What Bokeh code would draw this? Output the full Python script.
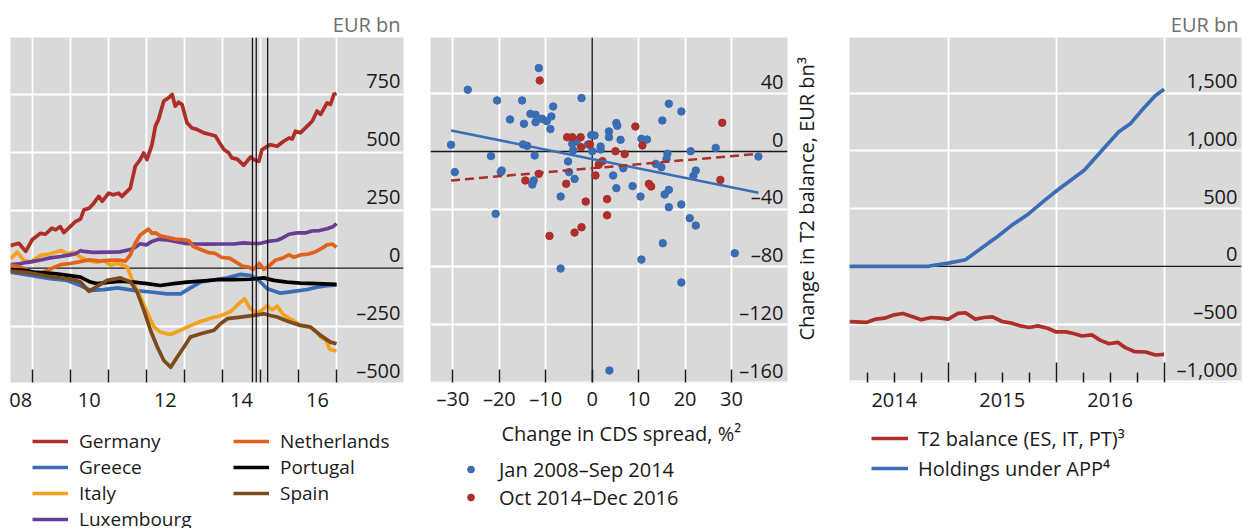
from bokeh.plotting import figure
from bokeh.models import Range1d, LinearAxis, FixedTicker, Span, Legend, LegendItem, Title
from bokeh.layouts import row, column
from bokeh.embed import file_html
from bokeh.resources import INLINE

# ------------------------------------------------------------------ data
# Panel 1: TARGET2 balances by country, EUR bn (decimal year, value)
germany = [(2008.43, 97), (2008.65, 107), (2008.83, 72), (2009.0, 122), (2009.22, 150), (2009.35, 146),
           (2009.52, 172), (2009.62, 165), (2009.74, 179), (2009.83, 153), (2010.0, 179), (2010.14, 201),
           (2010.27, 211), (2010.36, 251), (2010.5, 258), (2010.62, 280), (2010.75, 309), (2010.84, 288),
           (2011.01, 323), (2011.13, 316), (2011.27, 323), (2011.36, 309), (2011.58, 345), (2011.71, 439),
           (2011.84, 468), (2011.93, 496), (2012.02, 468), (2012.15, 532), (2012.24, 612), (2012.32, 640),
           (2012.46, 720), (2012.59, 734), (2012.68, 749), (2012.76, 698), (2012.85, 715), (2012.94, 705),
           (2013.07, 626), (2013.2, 604), (2013.33, 598), (2013.51, 583), (2013.68, 576), (2013.82, 569),
           (2013.9, 547), (2014.04, 511), (2014.17, 496), (2014.25, 475), (2014.39, 470), (2014.56, 443),
           (2014.74, 479), (2014.82, 468), (2014.96, 460), (2015.04, 511), (2015.18, 525), (2015.26, 532),
           (2015.44, 525), (2015.61, 547), (2015.75, 561), (2015.84, 557), (2015.92, 590), (2016.05, 583),
           (2016.23, 612), (2016.36, 633), (2016.49, 677), (2016.58, 662), (2016.75, 712), (2016.84, 705),
           (2016.93, 749), (2017.0, 753)]
greece = [(2008.43, -17), (2008.96, -31), (2009.48, -45), (2009.92, -53), (2010.27, -75), (2010.53, -96),
          (2010.88, -93), (2011.24, -85), (2011.67, -96), (2012.11, -103), (2012.55, -111), (2012.9, -111),
          (2013.16, -85), (2013.43, -60), (2013.78, -50), (2014.13, -42), (2014.48, -27), (2014.74, -32),
          (2014.91, -46), (2015.18, -89), (2015.53, -108), (2015.88, -100), (2016.23, -92), (2016.49, -82),
          (2016.75, -76), (2017.0, -72)]
italy = [(2008.43, 40), (2008.61, 69), (2008.78, 33), (2008.96, 26), (2009.22, 55), (2009.48, 62),
         (2009.75, 76), (2009.92, 62), (2010.10, 69), (2010.27, 47), (2010.45, 33), (2010.71, 26),
         (2010.88, 33), (2011.06, 12), (2011.24, 22), (2011.5, 4), (2011.67, -67), (2011.85, -125),
         (2012.02, -190), (2012.2, -254), (2012.37, -276), (2012.64, -286), (2012.9, -268), (2013.16, -248),
         (2013.43, -230), (2013.69, -216), (2013.95, -205), (2014.21, -188), (2014.39, -160), (2014.58, -132),
         (2014.72, -172), (2014.9, -195), (2015.05, -180), (2015.18, -162), (2015.31, -180), (2015.44, -164),
         (2015.6, -200), (2015.88, -228), (2016.05, -245), (2016.3, -254), (2016.49, -278), (2016.6, -300),
         (2016.72, -310), (2016.82, -350), (2017.0, -357)]
luxembourg = [(2008.43, 15), (2008.65, 18), (2008.83, 24), (2009.0, 28), (2009.22, 35), (2009.48, 44),
              (2009.75, 50), (2010.0, 57), (2010.14, 62), (2010.27, 75), (2010.36, 72), (2010.6, 68),
              (2011.0, 69), (2011.3, 70), (2011.58, 80), (2011.71, 90), (2011.84, 105), (2012.0, 100),
              (2012.15, 115), (2012.32, 124), (2012.55, 122), (2012.76, 115), (2013.0, 107), (2013.3, 104),
              (2013.6, 103), (2014.0, 104), (2014.3, 104), (2014.56, 109), (2014.8, 106), (2015.0, 107),
              (2015.2, 115), (2015.44, 120), (2015.58, 130), (2015.75, 146), (2015.97, 152), (2016.2, 152),
              (2016.35, 160), (2016.55, 162), (2016.75, 170), (2016.9, 178), (2017.0, 192)]
netherlands = [(2008.43, 12), (2008.6, 8), (2008.8, -3), (2009.0, -20), (2009.22, -22), (2009.4, -10),
               (2009.6, 5), (2009.75, 15), (2010.0, 20), (2010.27, 28), (2010.5, 36), (2010.8, 30),
               (2011.0, 34), (2011.27, 35), (2011.45, 30), (2011.58, 57), (2011.71, 107), (2011.84, 143),
               (2011.97, 158), (2012.06, 168), (2012.15, 150), (2012.24, 152), (2012.37, 139), (2012.55, 133),
               (2012.76, 125), (2013.02, 122), (2013.12, 118), (2013.24, 93), (2013.46, 78), (2013.63, 67),
               (2013.8, 64), (2013.97, 47), (2014.2, 42), (2014.34, 28), (2014.52, 9), (2014.69, 4),
               (2014.82, -5), (2014.97, 21), (2015.09, -5), (2015.22, 9), (2015.4, 35), (2015.57, 42),
               (2015.75, 57), (2015.88, 47), (2016.05, 57), (2016.27, 61), (2016.45, 71), (2016.62, 86),
               (2016.75, 100), (2016.88, 104), (2017.0, 90)]
portugal = [(2008.43, -6), (2008.8, -10), (2009.05, -17), (2009.5, -22), (2009.75, -27), (2010.27, -39),
            (2010.53, -60), (2010.71, -67), (2011.06, -60), (2011.32, -56), (2011.67, -60), (2012.02, -67),
            (2012.37, -75), (2012.72, -67), (2013.07, -60), (2013.43, -56), (2013.86, -50), (2014.3, -50),
            (2014.74, -48), (2015.09, -42), (2015.35, -53), (2015.7, -60), (2016.05, -65), (2016.49, -67),
            (2017.0, -70)]
spain = [(2008.43, -13), (2008.7, -16), (2009.05, -24), (2009.4, -35), (2009.75, -42), (2010.1, -50),
         (2010.27, -60), (2010.49, -100), (2010.71, -79), (2010.97, -53), (2011.32, -42), (2011.59, -60),
         (2011.76, -103), (2011.94, -183), (2012.11, -268), (2012.29, -340), (2012.46, -398), (2012.64, -427),
         (2012.81, -384), (2012.99, -340), (2013.16, -297), (2013.43, -283), (2013.78, -268), (2013.95, -240),
         (2014.13, -218), (2014.48, -211), (2014.83, -204), (2015.09, -197), (2015.26, -204), (2015.44, -211),
         (2015.70, -228), (2016.05, -247), (2016.32, -254), (2016.58, -290), (2016.84, -319), (2017.0, -326)]
event_dates = [2014.79, 2014.89, 2015.19]
p1_year_grid = [2009, 2010, 2011, 2012, 2013, 2014, 2015, 2016, 2017]
p1_label_pos = [2008.7, 2010.5, 2012.5, 2014.5, 2016.5]
p1_label_txt = ["08", "10", "12", "14", "16"]
p1_y_ticks = [-500, -250, 0, 250, 500, 750]
p1_y_labels = ["\u2013500", "\u2013250", "0", "250", "500", "750"]

# Panel 2: change in CDS spread (%) vs change in T2 balance (EUR bn)
period1 = [(-11.5, 57.8), (-26.8, 42.8), (-20.5, 35.4), (-15.1, 35.4), (-2.3, 37.0), (-8.4, 31.2),
           (-13.3, 26.1), (-12.2, 25.4), (-17.7, 22.2), (-14.7, 19.2), (-12.2, 20.3), (-10.8, 22.7),
           (-9.8, 21.0), (-8.8, 24.3), (-9.0, 15.5), (-30.4, 4.6), (-14.9, 4.9), (-14.0, 3.9),
           (-21.8, -3.2), (-12.4, -2.8), (-29.6, -14.3), (-19.7, -14.3), (-19.5, -13.2), (-5.2, -6.9),
           (-5.0, -14.3), (-3.8, -19.0), (-12.9, -22.9), (-12.6, -20.1), (-6.8, -31.2), (-4.3, 5.3),
           (-3.8, 6.5), (-3.2, 8.1), (-4.1, 0.7), (-0.9, 4.9), (-0.2, 11.3), (0.5, 11.1), (0.0, 0.2),
           (1.8, 3.5), (1.8, 1.4), (3.6, 13.9), (3.6, 9.9), (5.2, 19.7), (5.4, 17.8), (6.1, 8.1),
           (4.5, -16.6), (6.7, -11.6), (5.2, -25.4), (8.7, -24.0), (10.4, -31.2), (10.6, 8.8), (11.8, 8.3),
           (15.1, 21.5), (16.5, 33.1), (19.2, 27.7), (13.7, -8.6), (14.9, -10.9), (16.2, -1.6), (16.0, -5.1),
           (16.5, -26.6), (15.6, -29.8), (21.2, 0.2), (26.6, 2.5), (35.8, -3.5), (22.3, -13.2), (21.8, -16.9),
           (-20.8, -43.2), (16.5, -38.6), (19.2, -36.7), (21.0, -46.2), (22.3, -51.3), (15.2, -63.6),
           (30.7, -70.5), (10.6, -74.9), (-6.8, -81.1), (19.2, -90.8), (3.7, -151.8)]
period2 = [(-11.3, 49.2), (-5.4, 9.9), (-4.3, 9.9), (-2.5, 9.9), (-2.4, 3.0), (-0.5, 4.9), (9.3, 17.3),
           (10.8, 4.2), (28.0, 19.9), (5.0, 0.2), (7.0, -1.8), (2.2, -6.7), (1.4, -9.2), (0.7, -16.6),
           (-11.5, -15.5), (-14.4, -20.1), (-5.6, -22.4), (12.2, -22.4), (12.7, -24.3), (27.6, -19.7),
           (-1.4, -34.7), (3.2, -33.0), (3.2, -44.2), (-2.3, -52.5), (-3.8, -56.2), (-9.2, -58.5)]
fit_x = [-30.4, 35.8]
fit1_y = [14.6, -28.6]
fit2_y = [-20.1, -1.6]
p2_x_ticks = [-30, -20, -10, 0, 10, 20, 30]
p2_x_labels = ["\u201330", "\u201320", "\u201310", "0", "10", "20", "30"]
p2_y_ticks = [-160, -120, -80, -40, 0, 40]
p2_y_labels = ["\u2013160", "\u2013120", "\u201380", "\u201340", "0", "40"]

# Panel 3: T2 balance (ES, IT, PT) and holdings under APP, EUR bn
t2_balance = [(2014.085, -477), (2014.24, -485), (2014.33, -456), (2014.41, -448), (2014.50, -419),
              (2014.58, -407), (2014.67, -436), (2014.75, -462), (2014.84, -442), (2014.93, -448),
              (2015.0, -456), (2015.09, -407), (2015.16, -401), (2015.25, -456), (2015.33, -442),
              (2015.41, -436), (2015.50, -477), (2015.59, -491), (2015.67, -515), (2015.75, -529),
              (2015.83, -515), (2015.92, -535), (2016.0, -567), (2016.09, -567), (2016.16, -581),
              (2016.24, -602), (2016.33, -593), (2016.41, -640), (2016.49, -669), (2016.57, -657),
              (2016.64, -703), (2016.73, -738), (2016.83, -741), (2016.92, -767), (2017.0, -762)]
app_holdings = [(2014.085, 0), (2014.81, 0), (2014.84, 6), (2015.0, 29), (2015.16, 58), (2015.30, 154),
                (2015.46, 262), (2015.59, 358), (2015.73, 445), (2015.89, 570), (2016.01, 660),
                (2016.26, 834), (2016.44, 1022), (2016.58, 1167), (2016.69, 1239), (2016.81, 1370),
                (2016.92, 1480), (2017.0, 1535)]
p3_year_ticks = [2015, 2016, 2017]
p3_quarter_ticks = [2014.25, 2014.5, 2014.75, 2015.25, 2015.5, 2015.75, 2016.25, 2016.5, 2016.75]
p3_label_pos = [2014.5, 2015.5, 2016.5]
p3_label_txt = ["2014", "2015", "2016"]
p3_y_ticks = [-1000, -500, 0, 500, 1000, 1500]
p3_y_labels = ["\u20131,000", "\u2013500", "0", "500", "1,000", "1,500"]

# ------------------------------------------------------------------ style
FONT = "Open Sans"
FS = "20px"
BG = "#d9d9d9"
INK = "#1a1a1a"
UNIT_GRAY = "#6e6e6e"
RED = "#ae2e2a"
BLUE = "#3a6db4"
COLORS = {"Germany": RED, "Greece": BLUE, "Italy": "#f2a21c", "Luxembourg": "#6a3d94",
          "Netherlands": "#e0621c", "Portugal": "#000000", "Spain": "#7b4a1d"}
PAGE_H = 528
TOP = 37
FRAME_H = 345
LW = 3.7
NAN = float("nan")


def xs(pairs):
    return [a for a, _ in pairs]


def ys(pairs):
    return [b for _, b in pairs]


def base_fig(width, height, xr, yr, left, right, title=None):
    p = figure(width=width, height=height, x_range=Range1d(*xr), y_range=Range1d(*yr),
               output_backend="svg", toolbar_location=None, title=title,
               x_axis_location=None, y_axis_location=None,
               min_border_left=left, min_border_right=right,
               min_border_top=TOP, min_border_bottom=height - TOP - FRAME_H)
    p.background_fill_color = BG
    p.border_fill_color = "white"
    p.outline_line_color = None
    for g in (p.xgrid, p.ygrid):
        g.grid_line_color = "white"
        g.grid_line_width = 1.8
    if title is not None:
        p.title.align = "right"
        p.title.offset = 3
        p.title.standoff = 0
        p.title.text_font = FONT
        p.title.text_font_size = FS
        p.title.text_font_style = "normal"
        p.title.text_color = UNIT_GRAY
    return p


def legend_fig(width, height):
    f = figure(width=width, height=height, x_range=Range1d(0, 1), y_range=Range1d(0, 1),
               output_backend="svg", toolbar_location=None, title=None,
               x_axis_location=None, y_axis_location=None, min_border=0)
    f.background_fill_color = "white"
    f.border_fill_color = "white"
    f.outline_line_color = None
    f.xgrid.visible = False
    f.ygrid.visible = False
    return f


def value_axis(p, ticks, labels, shift, loc):
    p.extra_y_ranges = {"lab": Range1d(p.y_range.start - shift, p.y_range.end - shift)}
    ax = LinearAxis(y_range_name="lab", fixed_location=loc, ticker=FixedTicker(ticks=ticks),
                    major_label_overrides=dict(zip(ticks, labels)),
                    axis_line_color=None, major_tick_in=0, major_tick_out=0,
                    major_tick_line_color=None, minor_tick_line_color=None,
                    major_label_standoff=0, major_label_text_font=FONT,
                    major_label_text_font_size=FS, major_label_text_color=INK)
    p.add_layout(ax, "left")


def bottom_axis(p, ticks, labels, minor=None, minor_len=0, major_len=0, standoff=10):
    ax = LinearAxis(ticker=FixedTicker(ticks=ticks, minor_ticks=minor or []),
                    major_label_overrides=dict(zip(ticks, labels)),
                    axis_line_color=None,
                    major_tick_in=major_len, major_tick_out=0,
                    major_tick_line_color=INK if major_len else None, major_tick_line_width=1.5,
                    minor_tick_in=minor_len, minor_tick_out=0,
                    minor_tick_line_color=INK if minor_len else None, minor_tick_line_width=1.5,
                    major_label_standoff=standoff, major_label_text_font=FONT,
                    major_label_text_font_size=FS, major_label_text_color=INK)
    p.add_layout(ax, "below")
    return ax


def tick_axis(p, ticks, length):
    ax = LinearAxis(fixed_location=p.y_range.start, ticker=FixedTicker(ticks=ticks),
                    axis_line_color=None, major_tick_in=length, major_tick_out=0,
                    major_tick_line_color=INK, major_tick_line_width=1.5,
                    minor_tick_line_color=None, major_label_text_alpha=0)
    p.add_layout(ax, "below")


def legend(f, items, loc, glyph_w, standoff, spacing, nrows="auto", label_width=20,
           item_h=28, font_size=FS):
    lg = Legend(items=items, location=loc, orientation="vertical", nrows=nrows,
                glyph_width=glyph_w, glyph_height=item_h, label_height=item_h, label_width=label_width,
                label_standoff=standoff, spacing=spacing, padding=0, margin=0,
                border_line_color=None, background_fill_alpha=0,
                label_text_font=FONT, label_text_font_size=font_size, label_text_color=INK)
    f.add_layout(lg)


# ------------------------------------------------------------------ panel 1
P1_H = 424
p1 = base_fig(420, P1_H, (2008.431, 2018.76), (-493, 994), 10, 17, title="EUR bn")
p1.xgrid.ticker = FixedTicker(ticks=p1_year_grid)
p1.ygrid.ticker = FixedTicker(ticks=[t for t in p1_y_ticks if t != 0])
p1.add_layout(Span(location=0, dimension="width", line_color=INK, line_width=1.3, level="underlay"))
series1 = [("Germany", germany), ("Greece", greece), ("Italy", italy), ("Luxembourg", luxembourg),
           ("Netherlands", netherlands), ("Portugal", portugal), ("Spain", spain)]
for name, series in series1:
    p1.line(xs(series), ys(series), line_color=COLORS[name], line_width=LW, line_join="round")
for d in event_dates:
    p1.add_layout(Span(location=d, dimension="height", line_color=INK, line_width=1.3))
value_axis(p1, p1_y_ticks, p1_y_labels, 57, 2018.68)
bottom_axis(p1, p1_label_pos, p1_label_txt, minor=p1_year_grid, minor_len=13)

# legend keys: glyph renderers with a single empty (NaN) point, used only for the legend swatches
l1 = legend_fig(420, PAGE_H - P1_H)
keys1 = [l1.line([NAN], [NAN], line_color=COLORS[n], line_width=LW) for n, _ in series1]
legend(l1, [LegendItem(label=n, renderers=[r]) for (n, _), r in zip(series1, keys1)],
       (22, -4), 36, 11, 0, nrows=4, label_width=154, item_h=26, font_size="19px")

# ------------------------------------------------------------------ panel 2
P2_H = 455
p2 = base_fig(370, P2_H, (-34.83, 42.06), (-160.1, 79.0), 10, 3)
p2.xgrid.ticker = FixedTicker(ticks=[t for t in p2_x_ticks if t != 0])
p2.ygrid.ticker = FixedTicker(ticks=[t for t in p2_y_ticks if t != 0])
p2.add_layout(Span(location=0, dimension="width", line_color=INK, line_width=1.3, level="underlay"))
p2.add_layout(Span(location=0, dimension="height", line_color=INK, line_width=1.3, level="underlay"))
p2.scatter(xs(period1), ys(period1), marker="circle", size=7.5, fill_color=BLUE, line_color=BLUE)
p2.scatter(xs(period2), ys(period2), marker="circle", size=7.5, fill_color=RED, line_color=RED)
p2.line(fit_x, fit1_y, line_color=BLUE, line_width=2.5)
p2.line(fit_x, fit2_y, line_color=RED, line_width=2.5, line_dash="9 5")
value_axis(p2, p2_y_ticks, p2_y_labels, 8.5, 41.2)
bottom_axis(p2, p2_x_ticks, p2_x_labels, major_len=13, standoff=2)
p2.add_layout(Title(text="Change in CDS spread, %\u00b2", align="left", offset=71, standoff=6,
                    text_font=FONT, text_font_size=FS, text_font_style="normal", text_color=INK),
              "below")

l2 = legend_fig(370, PAGE_H - P2_H)
k21 = l2.scatter([NAN], [NAN], marker="circle", fill_color=BLUE, line_color=BLUE)
k22 = l2.scatter([NAN], [NAN], marker="circle", fill_color=RED, line_color=RED)
legend(l2, [LegendItem(label="Jan 2008\u2013Sep 2014", renderers=[k21]),
            LegendItem(label="Oct 2014\u2013Dec 2016", renderers=[k22])], (32, 17), 17, 20, 0)

# ------------------------------------------------------------------ panel 3
P3_H = 424
p3 = base_fig(452, P3_H, (2014.085, 2017.717), (-1005, 1983), 58, 1, title="EUR bn")
p3.xgrid.ticker = FixedTicker(ticks=p3_year_ticks)
p3.ygrid.ticker = FixedTicker(ticks=[t for t in p3_y_ticks if t != 0])
p3.add_layout(Span(location=0, dimension="width", line_color=INK, line_width=1.3, level="underlay"))
p3.line(xs(t2_balance), ys(t2_balance), line_color=RED, line_width=LW, line_join="round")
p3.line(xs(app_holdings), ys(app_holdings), line_color=BLUE, line_width=LW, line_join="round")
value_axis(p3, p3_y_ticks, p3_y_labels, 108, 2017.68)
bottom_axis(p3, p3_label_pos, p3_label_txt, minor=p3_quarter_ticks, minor_len=10)
tick_axis(p3, p3_year_ticks, 20)
# vertical title of the middle panel, drawn in the gap on the left of the right panel:
# a blank spacer axis next to the frame, then the rotated title
spacer = LinearAxis(ticker=FixedTicker(ticks=[]), axis_line_color=None, major_tick_in=0,
                    major_tick_out=0, major_tick_line_color=None, minor_tick_line_color=None,
                    major_label_standoff=0, axis_label="\u00a0", axis_label_standoff=0,
                    axis_label_text_font=FONT, axis_label_text_font_size=FS)
p3.add_layout(spacer, "left")
p3.add_layout(Title(text="Change in T2 balance, EUR bn\u00b3", align="left", offset=42, standoff=0,
                    text_font=FONT, text_font_size=FS, text_font_style="normal", text_color=INK),
              "left")

l3 = legend_fig(452, PAGE_H - P3_H)
k31 = l3.line([NAN], [NAN], line_color=RED, line_width=LW)
k32 = l3.line([NAN], [NAN], line_color=BLUE, line_width=LW)
legend(l3, [LegendItem(label="T2 balance (ES, IT, PT)\u00b3", renderers=[k31]),
            LegendItem(label="Holdings under APP\u2074", renderers=[k32])], (22, 46), 37, 10, 2)

layout = row(column(p1, l1), column(p2, l2), column(p3, l3))
open("out.html", "w").write(file_html(layout, INLINE))
